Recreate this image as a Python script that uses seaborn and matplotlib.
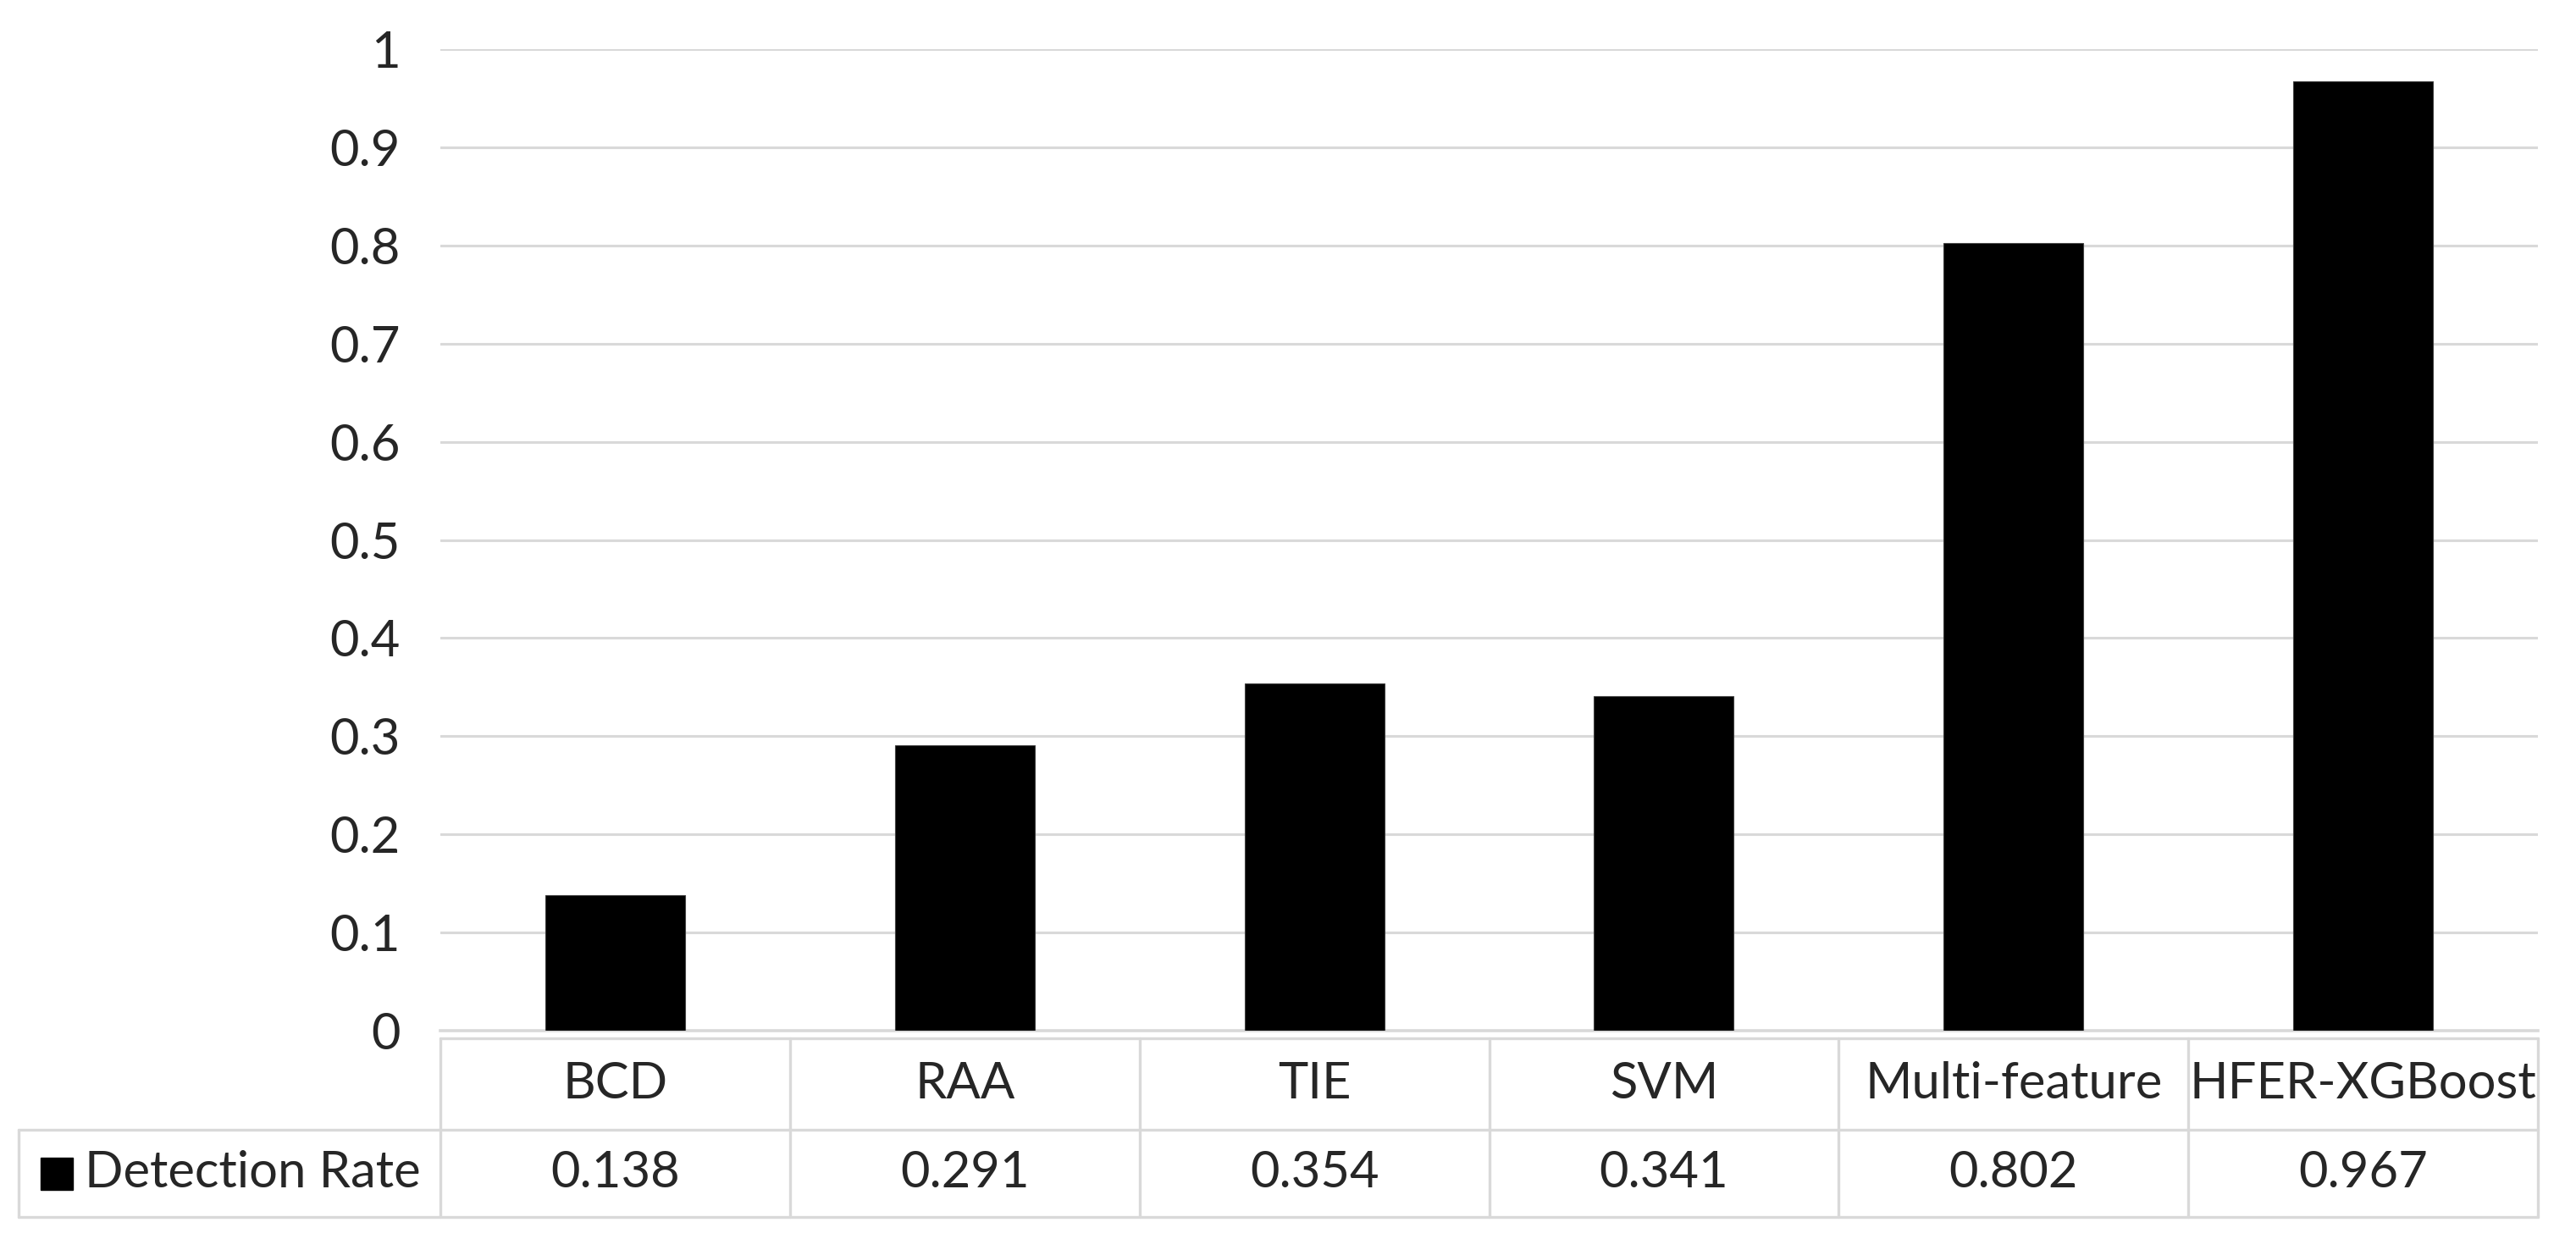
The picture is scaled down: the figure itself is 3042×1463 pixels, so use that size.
import matplotlib
matplotlib.use('Agg')
import matplotlib.pyplot as plt
import seaborn as sns
import pandas as pd

# Data
methods = ['BCD', 'RAA', 'TIE', 'SVM', 'Multi-feature', 'HFER-XGBoost']
detection_rate = [0.138, 0.291, 0.354, 0.341, 0.802, 0.967]
value_labels = ['0.138', '0.291', '0.354', '0.341', '0.802', '0.967']
series_name = 'Detection Rate'
y_ticks = [0, 0.1, 0.2, 0.3, 0.4, 0.5, 0.6, 0.7, 0.8, 0.9, 1]
y_tick_labels = ['0', '0.1', '0.2', '0.3', '0.4', '0.5', '0.6', '0.7', '0.8', '0.9', '1']

sns.set_style('white')
plt.rcParams['font.family'] = ['Lato', 'DejaVu Sans']

W, H = 3042, 1463
fig = plt.figure(figsize=(W / 100, H / 100), dpi=100)

# axes position in pixels
left, right, top, bottom = 520, 2997, 58, 1217
ax = fig.add_axes([left / W, (H - bottom) / H, (right - left) / W, (bottom - top) / H])

df = pd.DataFrame({'method': methods, 'rate': detection_rate})
sns.barplot(data=df, x='method', y='rate', color='black', width=0.4,
            saturation=1, ax=ax, edgecolor='#404040', linewidth=0.8, zorder=3)

grid_c = '#d9d9d9'
FS = 43

ax.set_ylim(0, 1)
ax.set_xlim(-0.5, len(methods) - 0.5)
ax.set_yticks(y_ticks)
ax.set_yticklabels(y_tick_labels, fontsize=FS)
ax.yaxis.grid(True, color=grid_c, linewidth=2.2, zorder=0)
ax.set_axisbelow(True)
ax.tick_params(axis='y', length=0, pad=34)
ax.tick_params(axis='x', length=0, labelbottom=False)
ax.set_xlabel('')
ax.set_ylabel('')
for s in ['top', 'right', 'left']:
    ax.spines[s].set_visible(False)
ax.spines['bottom'].set_color(grid_c)
ax.spines['bottom'].set_linewidth(2.6)

# data table below the plot
ah = bottom - top
def ay(px):
    return (bottom - px) / ah

t_top, t_mid, t_bot = ay(1226), ay(1334), ay(1437)
xt = ax.get_xaxis_transform()
aw = right - left
x_outer = (22 - left) / aw
lw_t = 2.4

# horizontal borders
ax.plot([0, 1], [t_top, t_top], transform=ax.transAxes, color=grid_c, lw=lw_t, clip_on=False)
ax.plot([x_outer, 1], [t_mid, t_mid], transform=ax.transAxes, color=grid_c, lw=lw_t, clip_on=False)
ax.plot([x_outer, 1], [t_bot, t_bot], transform=ax.transAxes, color=grid_c, lw=lw_t, clip_on=False)
# vertical borders
for b in [i - 0.5 for i in range(len(methods) + 1)]:
    ax.plot([b, b], [t_top, t_bot], transform=xt, color=grid_c, lw=lw_t, clip_on=False)
ax.plot([x_outer, x_outer], [t_mid, t_bot], transform=ax.transAxes, color=grid_c, lw=lw_t, clip_on=False)

# header and value cells
for i, (m, v) in enumerate(zip(methods, value_labels)):
    ax.text(i, (t_top + t_mid) / 2, m, transform=xt, ha='center', va='center', fontsize=FS)
    ax.text(i, (t_mid + t_bot) / 2, v, transform=xt, ha='center', va='center', fontsize=FS)

# legend key + series name
ymid = (t_mid + t_bot) / 2
key_x0 = (48 - left) / aw
key_w = 38 / aw
key_h = 38 / ah
ax.add_patch(plt.Rectangle((key_x0, ymid - key_h / 2), key_w, key_h, transform=ax.transAxes,
                           color='black', clip_on=False))
ax.text((100 - left) / aw, ymid, series_name, transform=ax.transAxes, ha='left', va='center',
        fontsize=FS)

fig.savefig('out.png', dpi=100, facecolor='white')
